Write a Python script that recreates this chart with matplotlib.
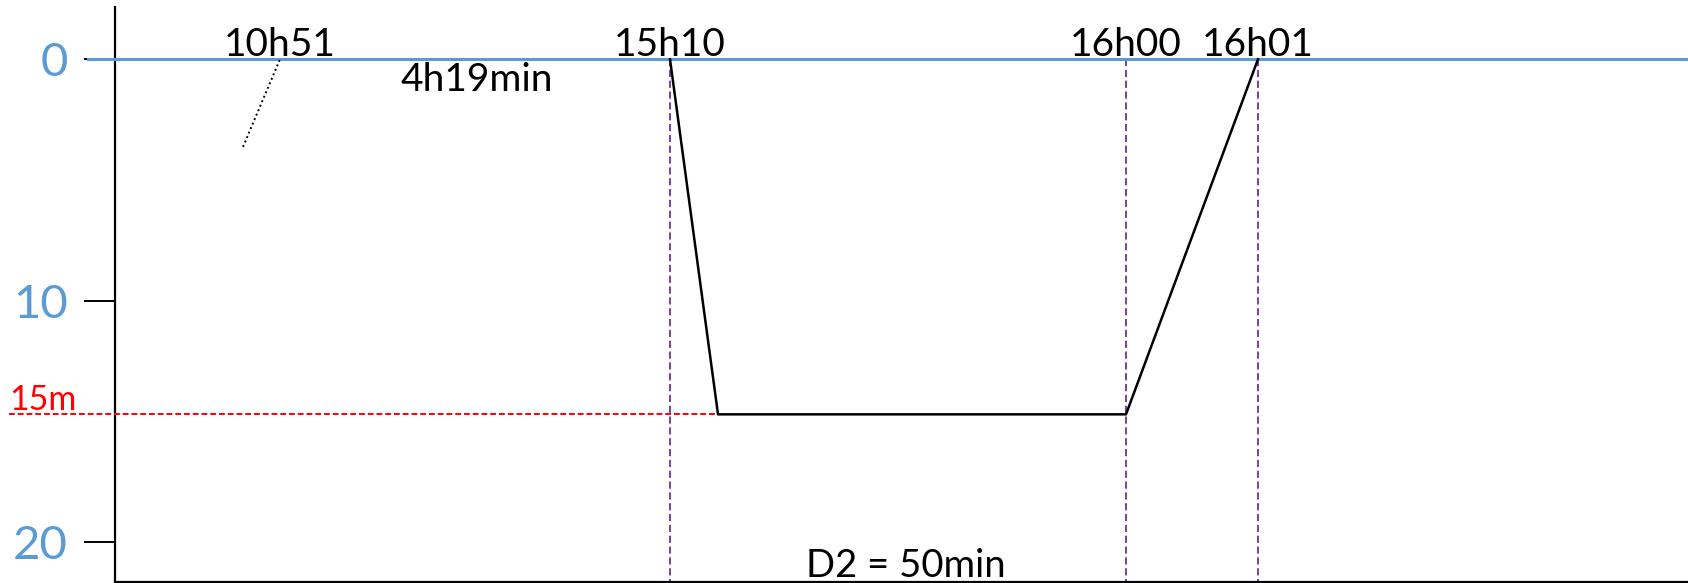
import matplotlib.pyplot as plt

# schematic dive profile: x positions are drawing positions along the time line
plt.rcParams['font.family'] = ['Lato', 'DejaVu Sans']

depth_ticks = [0, 10, 20]
plan_depth = 14.7          # depth of the "15m" line as drawn

# previous dive ascent (dotted), ends at the surface at 10h51
prev_x = [243, 280]
prev_depth = [3.63, 0]

# dive 2 profile
dive_x = [670, 718, 1126, 1258]
dive_depth = [0, plan_depth, plan_depth, 0]

# time labels at the surface
time_labels = ["10h51", "15h10", "16h00", "16h01"]
time_x = [280, 670, 1126, 1258]
marker_x = [670, 1126, 1258]   # purple dashed verticals

interval_label = "4h19min"
interval_x = 477
duration_label = "D2 = 50min"
duration_x = 906

blue = '#5B9BD5'
purple = '#7030A0'

fig = plt.figure(figsize=(16.88, 5.83), dpi=100)
ax = fig.add_axes([115 / 1688, 1 / 583, 1 - 115 / 1688, (583 - 8.5) / 583])
ax.set_xlim(115, 1688)
ax.set_ylim(21.64, -2.14)

ax.spines['top'].set_visible(False)
ax.spines['right'].set_visible(False)
ax.spines['left'].set_linewidth(1.6)
ax.spines['bottom'].set_linewidth(1.6)
ax.set_xticks([])
ax.set_yticks(depth_ticks)
ax.set_yticklabels([str(t) for t in depth_ticks], color=blue, fontsize=34)
ax.tick_params(axis='y', length=22, width=1.4, pad=12)

# surface line
ax.plot([88, 1688], [0, 0], color=blue, lw=2.2, clip_on=False, zorder=4)

# planned depth line
ax.plot([9, dive_x[1]], [plan_depth, plan_depth], color='red', lw=1.4,
        ls=(0, (3, 1.5)), clip_on=False, zorder=3)
ax.text(9, plan_depth - 0.2, "15m", color='red', fontsize=24.5,
        ha='left', va='baseline', clip_on=False)

# vertical markers
for xm in marker_x:
    ax.plot([xm, xm], [0, 21.64], color=purple, lw=1.3, ls=(0, (4, 2)), zorder=2)

ax.plot(prev_x, prev_depth, color='black', lw=1.4, ls=(0, (1, 1.5)), zorder=5)
ax.plot(dive_x, dive_depth, color='black', lw=1.8, zorder=5)

for lbl, xt in zip(time_labels, time_x):
    ax.text(xt, -0.15, lbl, fontsize=28, ha='center', va='baseline')

ax.text(interval_x, 1.3, interval_label, fontsize=28, ha='center', va='baseline')
ax.text(duration_x, 21.45, duration_label, fontsize=27.5, ha='center', va='baseline')

fig.savefig('out.png', dpi=100)
